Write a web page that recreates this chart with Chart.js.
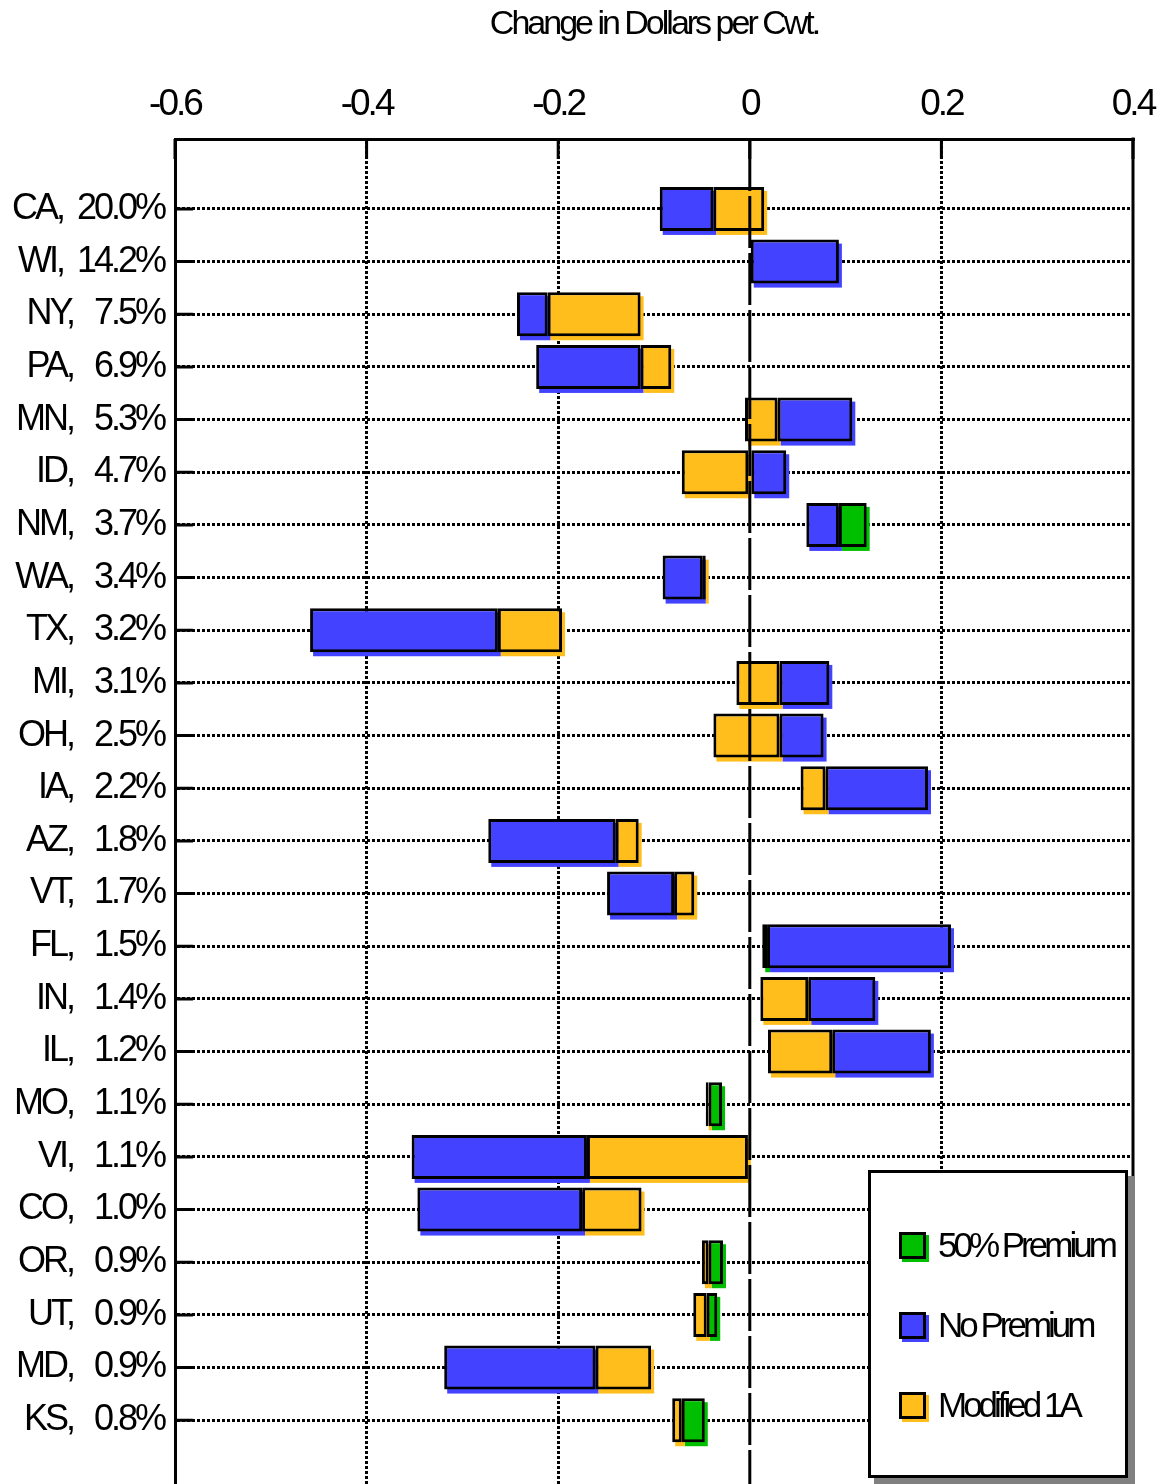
<!DOCTYPE html>
<html lang="en">
<head>
<meta charset="UTF-8">
<title>Change in Dollars per Cwt.</title>
<script src="https://cdn.jsdelivr.net/npm/chart.js"></script>
<style>
    html, body { margin: 0; padding: 0; background: #fff; overflow: hidden; }
    #wrap { position: relative; width: 1160px; height: 1484px; overflow: hidden; }
    #legend {
        position: absolute; left: 868px; top: 1170px; width: 254px; height: 302px;
        border: 3px solid #000; background: #fff; box-shadow: 6px 6px 0 #808080;
        font-family: 'Liberation Sans', Arial, sans-serif; font-size: 35px; letter-spacing: -4px; color: #000;
    }
    .item { position: absolute; left: 28px; height: 40px; line-height: 40px; white-space: nowrap; }
    .swatch { position: absolute; left: 0; top: 7px; width: 21px; height: 21px; border: 3px solid #000; }
    .item .txt { position: absolute; left: 39px; top: 0; }
</style>
</head>
<body>
<div id="wrap">
    <canvas id="chart" width="1160" height="1500"></canvas>
    <div id="legend"></div>
</div>
<script>
    // States with their share of milk (labels on the left)
    const states = ['CA', 'WI', 'NY', 'PA', 'MN', 'ID', 'NM', 'WA', 'TX', 'MI', 'OH', 'IA',
        'AZ', 'VT', 'FL', 'IN', 'IL', 'MO', 'VI', 'CO', 'OR', 'UT', 'MD', 'KS'];
    const shares = ['20.0%', '14.2%', '7.5%', '6.9%', '5.3%', '4.7%', '3.7%', '3.4%', '3.2%', '3.1%', '2.5%', '2.2%',
        '1.8%', '1.7%', '1.5%', '1.4%', '1.2%', '1.1%', '1.1%', '1.0%', '0.9%', '0.9%', '0.9%', '0.8%'];

    // Floating bar segments [from, to] in $/cwt, null where a series has no bar
    const premium50 = [null, null, null, null, null, null, [0.093, 0.122], null, null, null, null, null,
        null, null, [0.013, 0.018], null, null, [-0.043, -0.029], null, null, [-0.043, -0.028], [-0.045, -0.034], null, [-0.071, -0.047]];
    const noPremium = [[-0.094, -0.038], [0.001, 0.093], [-0.243, -0.211], [-0.223, -0.114], [0.029, 0.107], [0, 0.038],
        [0.059, 0.093], [-0.091, -0.049], [-0.459, -0.263], [0.031, 0.083], [0.031, 0.077], [0.079, 0.186],
        [-0.273, -0.140], [-0.149, -0.079], [0.018, 0.210], [0.061, 0.131], [0.086, 0.189], null,
        [-0.353, -0.170], [-0.347, -0.175], null, null, [-0.319, -0.161], null];
    const modified1A = [[-0.038, 0.015], null, [-0.211, -0.114], [-0.114, -0.082], [-0.005, 0.029], [-0.071, 0],
        null, [-0.049, -0.046], [-0.263, -0.196], [-0.014, 0.031], [-0.038, 0.031], [0.053, 0.079],
        [-0.140, -0.116], [-0.079, -0.058], null, [0.011, 0.061], [0.019, 0.086], [-0.046, -0.043],
        [-0.170, -0.002], [-0.175, -0.113], [-0.050, -0.043], [-0.059, -0.045], [-0.161, -0.103], [-0.081, -0.071]];

    const xTicks = [-0.6, -0.4, -0.2, 0, 0.2, 0.4];

    const FONT = "'Liberation Sans', Arial, sans-serif";
    const labels = states.map((s, i) => s + ',' + (shares[i].length < 5 ? '   ' : '  ') + shares[i]);

    function toPoints(series) {
        return series.map((r, i) => r ? { x: r, y: i } : null).filter(p => p);
    }

    const series = [
        { label: '50% Premium', data: premium50, color: '#00BF00' },
        { label: 'No Premium', data: noPremium, color: '#4343FF' },
        { label: 'Modified 1A', data: modified1A, color: '#FFBE1C' }
    ];

    // tighter text like the original
    const spacingPlugin = {
        id: 'spacing',
        beforeUpdate(chart) { chart.ctx.letterSpacing = '-3px'; },
        beforeDraw(chart) { chart.ctx.letterSpacing = '-3px'; }
    };

    // coloured offset shadow under each bar
    const shadowPlugin = {
        id: 'shadow',
        beforeDatasetsDraw(chart) {
            const ctx = chart.ctx;
            ctx.save();
            chart.getSortedVisibleDatasetMetas().forEach(meta => {
                ctx.fillStyle = chart.data.datasets[meta.index].backgroundColor;
                meta.data.forEach(bar => {
                    const left = Math.min(bar.x, bar.base);
                    const w = Math.abs(bar.x - bar.base);
                    ctx.fillRect(left + 3, bar.y - bar.height / 2 + 4, w, bar.height);
                });
            });
            ctx.restore();
        }
    };

    // frame on the right, zero line and inside tick marks
    const framePlugin = {
        id: 'frame',
        afterDatasetsDraw(chart) {
            const ctx = chart.ctx;
            const a = chart.chartArea;
            const xs = chart.scales.x, ys = chart.scales.y;
            ctx.save();
            ctx.strokeStyle = '#000';
            ctx.lineWidth = 3;
            // right border
            ctx.beginPath();
            ctx.moveTo(a.right, a.top - 1.5);
            ctx.lineTo(a.right, a.bottom);
            ctx.stroke();
            // inside tick marks
            ctx.beginPath();
            ys.ticks.forEach(t => {
                const y = ys.getPixelForValue(t.value);
                ctx.moveTo(a.left, y);
                ctx.lineTo(a.left + 18, y);
            });
            xs.ticks.forEach(t => {
                const x = xs.getPixelForValue(t.value);
                ctx.moveTo(x, a.top);
                ctx.lineTo(x, a.top + 20);
            });
            ctx.stroke();
            // zero line
            const x0 = xs.getPixelForValue(0);
            ctx.setLineDash([52, 5]);
            ctx.beginPath();
            ctx.moveTo(x0, a.top);
            ctx.lineTo(x0, a.bottom);
            ctx.stroke();
            ctx.restore();
        }
    };

    const chart = new Chart(document.getElementById('chart'), {
        type: 'bar',
        data: {
            datasets: series.map(s => ({
                label: s.label,
                data: toPoints(s.data),
                backgroundColor: s.color,
                borderColor: '#000',
                borderWidth: 3,
                borderSkipped: false,
                grouped: false,
                barPercentage: 0.9,
                categoryPercentage: 1,
                maxBarThickness: 44
            }))
        },
        options: {
            indexAxis: 'y',
            responsive: false,
            animation: false,
            layout: { padding: { right: 27, bottom: 5, left: 0, top: 0 } },
            plugins: {
                legend: { display: false },
                tooltip: { enabled: false }
            },
            scales: {
                x: {
                    type: 'linear',
                    position: 'top',
                    min: -0.6,
                    max: 0.4,
                    afterFit(scale) {
                        scale.height = 139;
                        scale.paddingLeft = 0;
                        scale.paddingRight = 0;
                    },
                    afterBuildTicks(scale) { scale.ticks = xTicks.map(v => ({ value: v })); },
                    ticks: {
                        color: '#000',
                        font: { family: FONT, size: 37 },
                        padding: 12,
                        maxRotation: 0,
                        callback: v => {
                            const r = Math.round(v * 10) / 10;
                            return r === 0 ? '0' : String(r);
                        }
                    },
                    title: {
                        display: true,
                        text: 'Change in Dollars per Cwt.',
                        color: '#000',
                        font: { family: FONT, size: 34 },
                        padding: { top: 4, bottom: 0 }
                    },
                    grid: {
                        drawTicks: false,
                        lineWidth: 3,
                        color: c => (c.tick && [-0.4, -0.2, 0.2].some(v => Math.abs(v - c.tick.value) < 1e-6)) ? '#000' : 'rgba(0,0,0,0)'
                    },
                    border: { display: true, color: '#000', width: 3, dash: [3, 2] }
                },
                y: {
                    type: 'linear',
                    reverse: true,
                    offset: false,
                    min: -1.328,
                    max: 24.42,
                    afterFit(scale) {
                        scale.width = 175;
                        scale.paddingTop = 0;
                        scale.paddingBottom = 0;
                    },
                    afterBuildTicks(scale) { scale.ticks = states.map((s, i) => ({ value: i })); },
                    ticks: {
                        color: '#000',
                        font: { family: FONT, size: 36 },
                        padding: 11,
                        autoSkip: false,
                        callback: v => labels[v] || ''
                    },
                    grid: {
                        offset: false,
                        drawTicks: false,
                        lineWidth: 3,
                        color: '#000'
                    },
                    border: { display: true, color: '#000', width: 3, dash: [3, 2] }
                }
            }
        },
        plugins: [spacingPlugin, shadowPlugin, framePlugin]
    });

    // legend box in the lower right corner
    const legend = document.getElementById('legend');
    chart.data.datasets.forEach((ds, i) => {
        const item = document.createElement('div');
        item.className = 'item';
        item.style.top = (52 + i * 80) + 'px';
        item.innerHTML = '<div class="swatch" style="background:' + ds.backgroundColor + ';box-shadow:3px 3px 0 ' + ds.backgroundColor + '"></div>'
            + '<div class="txt">' + ds.label + '</div>';
        legend.appendChild(item);
    });
</script>
</body>
</html>
